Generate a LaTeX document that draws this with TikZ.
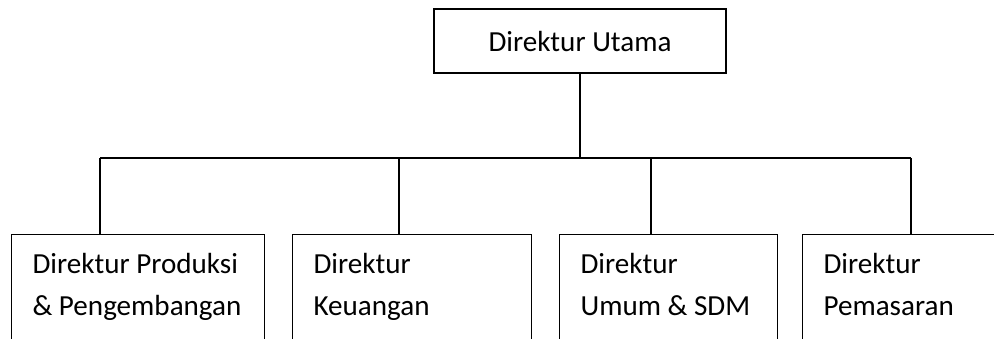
\documentclass[tikz,border=0pt]{standalone}
\usepackage{fontspec}
\setmainfont{Carlito}
\usetikzlibrary{calc}

\begin{document}
\begin{tikzpicture}[x=0.025cm,y=-0.025cm,line width=0.8pt,
    every text node part/.style={align=left},
    font={\fontsize{20.7pt}{29.9pt}\selectfont}]
	\tikzstyle{unit}=[rectangle,draw,inner sep=0pt,anchor=north west]
	\tikzstyle{caption}=[inner sep=0pt,anchor=north west]

	\clip (0,0) rectangle (994,338);

	\node[unit,anchor=center,minimum width=7.3cm,minimum height=1.6cm] (top) at (580,41) {Direktur Utama};

	\foreach \name/\x/\w in {prod/11/6.325, keu/292/5.975, sdm/559/5.45, pem/802/5.7}
		\node[unit,minimum width=\w cm,minimum height=3.2cm] (\name) at (\x,234) {};

	\foreach \name/\txt in {prod/{Direktur Produksi\\ \& Pengembangan}, keu/{Direktur\\ Keuangan},
	                        sdm/{Direktur\\ Umum \& SDM}, pem/{Direktur\\ Pemasaran}}
		\node[caption] (\name txt) at ($(\name.north west)+(21,19)$) {\txt};

	% lines
	\foreach \name/\x in {prod/100, keu/399, sdm/651, pem/911}
		\coordinate (d\name) at (\x,158);

	\draw (top) -- (top.south |- dprod);
	\draw (dprod) -- (dpem);

	\foreach \name in {prod, keu, sdm, pem}
		\draw (d\name) -- (d\name |- \name.north);

\end{tikzpicture}
\end{document}
